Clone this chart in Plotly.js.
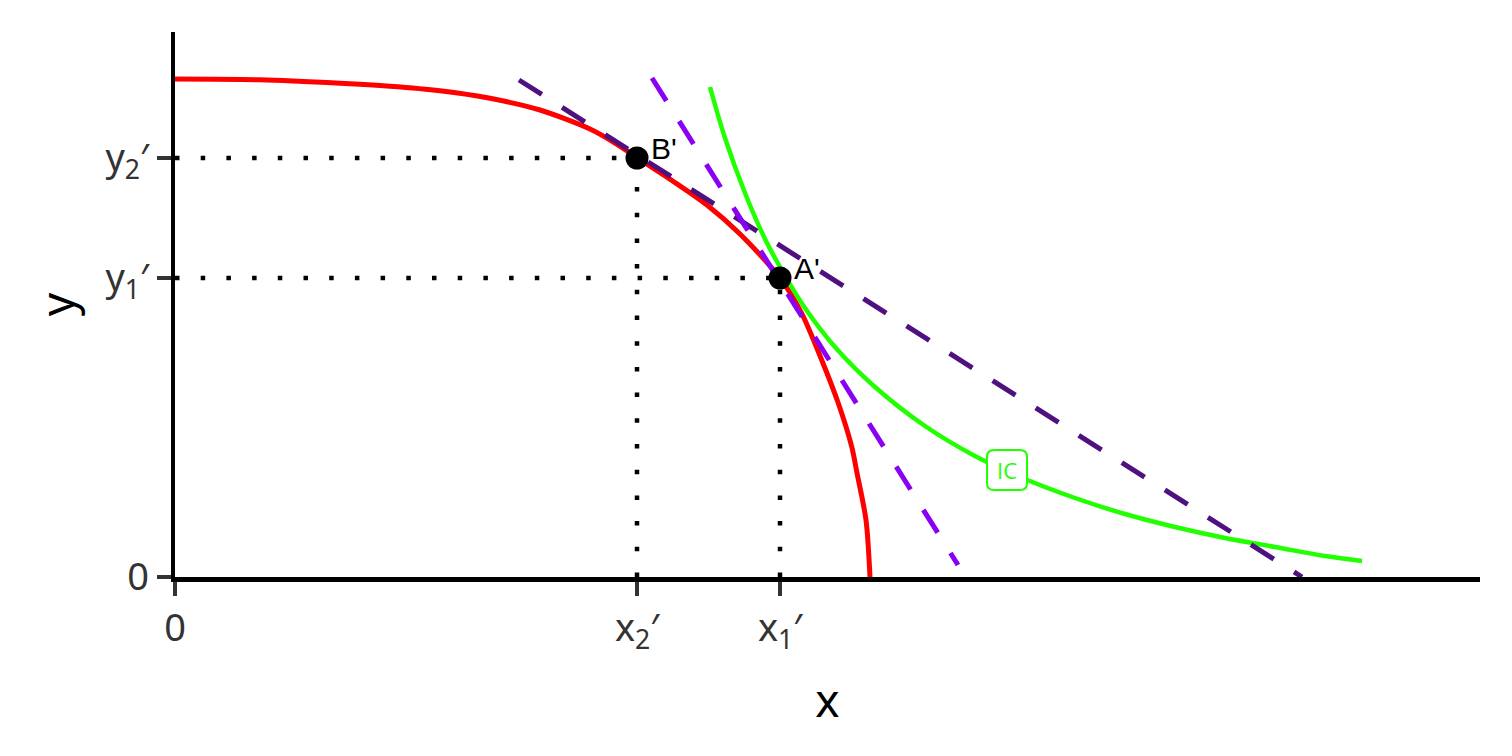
<!DOCTYPE html>
<html>
<head>
<meta charset="utf-8">
<script src="https://cdn.plot.ly/plotly-3.0.1.min.js"></script>
<style>html,body{margin:0;padding:0;background:#fff;}#chart{width:1512px;height:756px;}</style>
</head>
<body>
<div id="chart"></div>
<script>
// Production possibility frontier (red)
const ppfX = [0, 0.85, 1.65, 2.15, 2.65, 3.15, 3.65, 4.15, 4.40, 4.62, 4.97, 5.32, 5.65, 6.05, 6.267, 6.467, 6.633, 6.767, 6.82, 6.91, 6.95];
const ppfY = [4.98, 4.972, 4.937, 4.907, 4.862, 4.787, 4.67, 4.48, 4.34, 4.195, 3.965, 3.72, 3.43, 2.99, 2.637, 2.17, 1.737, 1.303, 1.04, 0.57, 0];
// Indifference curve (green)
const icX = [5.35, 5.5, 5.7, 5.9, 6.05, 6.3, 6.6, 7.0, 7.5, 8.0, 8.5, 9.0, 9.5, 10.0, 10.5, 11.0, 11.5, 11.87];
const icY = [4.90, 4.39, 3.84, 3.38, 3.10, 2.69, 2.30, 1.90, 1.51, 1.21, 0.98, 0.79, 0.63, 0.50, 0.39, 0.30, 0.21, 0.16];
// Tangent (price) lines
const priceBX = [3.44, 11.27];
const priceBY = [4.97, 0];
const priceAX = [4.77, 7.83];
const priceAY = [4.99, 0.12];
// Points
const ptNames = ["B'", "A'"];
const ptX = [4.62, 6.05];
const ptY = [4.19, 2.99];
// Tick labels
const xTickVals = [0, ptX[0], ptX[1]];
const xTickText = ["0", "x<sub>2</sub>′", "x<sub>1</sub>′"];
const yTickVals = [0, ptY[1], ptY[0]];
const yTickText = ["0", "y<sub>1</sub>′", "y<sub>2</sub>′"];
const icLabel = {text: "IC", x: 8.32, y: 1.07};

const GREEN = "#22ff00";
const dotStyle = {color: "black", width: 4.5, dash: "4.5px,21.2px"};
const traces = [];
for (let i = 0; i < ptX.length; i++) {
  traces.push({x: [0, ptX[i]], y: [ptY[i], ptY[i]], mode: "lines", line: dotStyle, hoverinfo: "skip"});
  traces.push({x: [ptX[i], ptX[i]], y: [0, ptY[i]], mode: "lines", line: dotStyle, hoverinfo: "skip"});
}
traces.push({x: ppfX, y: ppfY, mode: "lines", line: {color: "#ff0000", width: 5, shape: "spline", smoothing: 0.8}});
traces.push({x: icX, y: icY, mode: "lines", line: {color: GREEN, width: 4.5, shape: "spline", smoothing: 1}});
traces.push({x: priceBX, y: priceBY, mode: "lines", line: {color: "#4f1080", width: 5, dash: "27px,24px"}});
traces.push({x: priceAX, y: priceAY, mode: "lines", line: {color: "#8a00f5", width: 5, dash: "27px,24px"}});
traces.push({x: ptX, y: ptY, mode: "markers", marker: {color: "black", size: 23}});

const annotations = ptNames.map((n, i) => ({
  x: ptX[i], y: ptY[i], text: n, showarrow: false, xanchor: "left", yanchor: "middle",
  xshift: 12, yshift: 10, font: {family: "Liberation Sans, Arial, sans-serif", size: 30, color: "black"}
}));
annotations.push({
  x: icLabel.x, y: icLabel.y, text: icLabel.text, showarrow: false,
  xanchor: "center", yanchor: "middle",
  font: {family: "Open Sans, Noto Sans, sans-serif", size: 22, color: GREEN}
});

// rounded label box around IC
const r = 7, w = 20, h = 20;
const boxPath = `M ${-w + r},${-h} L ${w - r},${-h} Q ${w},${-h} ${w},${-h + r} L ${w},${h - r} Q ${w},${h} ${w - r},${h} ` +
  `L ${-w + r},${h} Q ${-w},${h} ${-w},${h - r} L ${-w},${-h + r} Q ${-w},${-h} ${-w + r},${-h} Z`;
const shapes = [{
  type: "path", xref: "x", yref: "y", xsizemode: "pixel", ysizemode: "pixel",
  xanchor: icLabel.x, yanchor: icLabel.y, path: boxPath,
  fillcolor: "white", line: {color: GREEN, width: 2}, layer: "above"
}];

const tickFont = {family: "Noto Sans", size: 38, color: "#333333"};
const layout = {
  width: 1512, height: 756,
  margin: {l: 175, r: 32, t: 32, b: 179, pad: 0},
  paper_bgcolor: "white", plot_bgcolor: "white",
  showlegend: false,
  xaxis: {
    range: [0, 13.05], showgrid: false, zeroline: false,
    showline: true, linecolor: "black", linewidth: 4.5,
    ticks: "outside", ticklen: 14, tickwidth: 4.5, tickcolor: "#333333",
    tickvals: xTickVals, ticktext: xTickText, tickfont: tickFont,
    title: {text: "x", font: {family: "Noto Sans", size: 46, color: "black"}, standoff: 30}
  },
  yaxis: {
    range: [0, 5.45], showgrid: false, zeroline: false,
    showline: true, linecolor: "black", linewidth: 4.5,
    ticks: "outside", ticklen: 14, tickwidth: 4.5, tickcolor: "#333333",
    tickvals: yTickVals, ticktext: yTickText, tickfont: tickFont,
    title: {text: "y", font: {family: "Noto Sans", size: 46, color: "black"}, standoff: 18}
  },
  shapes: shapes,
  annotations: annotations
};
Plotly.newPlot("chart", traces, layout, {staticPlot: true, displayModeBar: false});
</script>
</body>
</html>
